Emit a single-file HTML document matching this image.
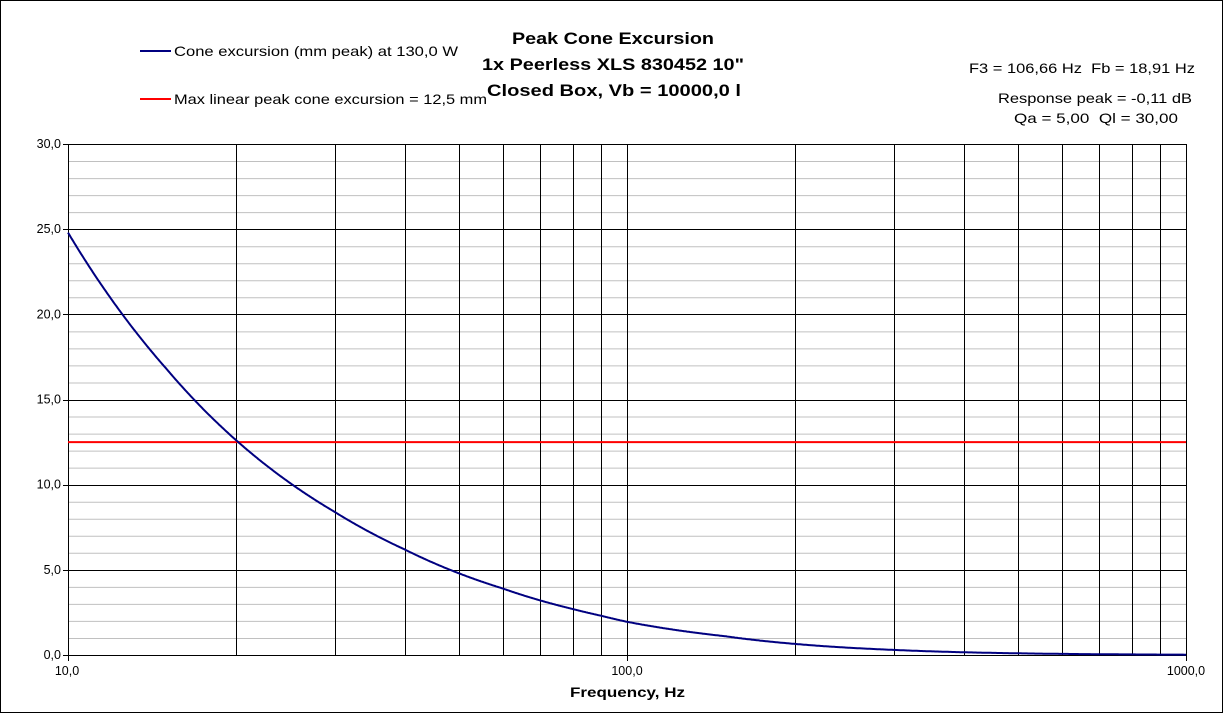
<!DOCTYPE html>
<html><head><style>
body{margin:0;background:#fff}
svg{display:block;font-family:"Liberation Sans",Arial,sans-serif}
</style></head><body>
<svg id="s" width="1224" height="714" xmlns="http://www.w3.org/2000/svg">
<rect x="0.5" y="0.5" width="1222" height="712" fill="#fff" stroke="#000"/>
<g id="g"></g>
<text x="512" y="44" font-size="17" font-weight="bold" textLength="202" lengthAdjust="spacingAndGlyphs">Peak Cone Excursion</text>
<text x="482" y="70" font-size="17" font-weight="bold" textLength="262" lengthAdjust="spacingAndGlyphs">1x Peerless XLS 830452 10"</text>
<text x="487" y="96" font-size="17" font-weight="bold" textLength="254" lengthAdjust="spacingAndGlyphs">Closed Box, Vb = 10000,0 l</text>
<line x1="140" y1="51" x2="171" y2="51" stroke="#000080" stroke-width="2"/>
<text x="174" y="56" font-size="14" textLength="284" lengthAdjust="spacingAndGlyphs">Cone excursion (mm peak) at 130,0 W</text>
<line x1="140" y1="99" x2="171" y2="99" stroke="#f00" stroke-width="2"/>
<text x="174" y="104" font-size="14" textLength="313" lengthAdjust="spacingAndGlyphs">Max linear peak cone excursion = 12,5 mm</text>
<text x="969" y="73" font-size="14" textLength="226" lengthAdjust="spacingAndGlyphs">F3 = 106,66 Hz&#160; Fb = 18,91 Hz</text>
<text x="998" y="103" font-size="14" textLength="194" lengthAdjust="spacingAndGlyphs">Response peak = -0,11 dB</text>
<text x="1014" y="123" font-size="14" textLength="164" lengthAdjust="spacingAndGlyphs">Qa = 5,00&#160; Ql = 30,00</text>
<text x="570" y="697" font-size="14" font-weight="bold" textLength="115" lengthAdjust="spacingAndGlyphs">Frequency, Hz</text>
</svg>
<script>
var g=document.getElementById('g'),h='';
var L=68,R=1186,T=144,B=655;
function X(f){return L+(R-L)*Math.log10(f/10)/2}
function Y(v){return B-(B-T)*v/30}
for(var i=1;i<30;i++){if(i%5)h+='<line x1="'+L+'" x2="'+R+'" y1="'+(Y(i)+.5)+'" y2="'+(Y(i)+.5)+'" stroke="#c0c0c0"/>';}
for(var i=5;i<=30;i+=5){var y=Math.round(Y(i))+.5;h+='<line x1="'+(L-5)+'" x2="'+R+'" y1="'+y+'" y2="'+y+'" stroke="#000"/>';}
[20,30,40,50,60,70,80,90,100,200,300,400,500,600,700,800,900].forEach(function(f){var x=Math.round(X(f))+.5;h+='<line x1="'+x+'" x2="'+x+'" y1="'+T+'" y2="'+B+'" stroke="#000"/>';});
h+='<rect x="'+(L+.5)+'" y="'+(T+.5)+'" width="'+(R-L)+'" height="'+(B-T)+'" fill="none" stroke="#000"/>';
h+='<line x1="'+(L-5)+'" x2="'+L+'" y1="'+(B+.5)+'" y2="'+(B+.5)+'" stroke="#000"/>';
[10,100,1000].forEach(function(f){var x=Math.round(X(f))+.5;h+='<line x1="'+x+'" x2="'+x+'" y1="'+B+'" y2="'+(B+6)+'" stroke="#000"/>';});
for(var i=0;i<=30;i+=5){h+='<text x="'+(L-7)+'" y="'+(Y(i)+4)+'" font-size="12.5" text-anchor="end">'+i+',0</text>';}
h+='<text x="67" y="675" font-size="12.5" text-anchor="middle">10,0</text>';
h+='<text x="627" y="675" font-size="12.5" text-anchor="middle">100,0</text>';
h+='<text x="1186" y="675" font-size="12.5" text-anchor="middle">1000,0</text>';
h+='<line x1="'+L+'" x2="'+R+'" y1="'+Y(12.5)+'" y2="'+Y(12.5)+'" stroke="#f00" stroke-width="2"/>';
var P=[[10,24.8],[15,16.8],[20,12.6],[30,8.4],[40,6.2],[50,4.8],[60,3.9],[70,3.2],[80,2.7],[90,2.3],[100,1.95],[150,1.1],[200,0.65],[300,0.3],[500,0.1],[1000,0.02]];
var pts=[];
for(var px=L;px<=R;px++){var f=10*Math.pow(10,2*(px-L)/(R-L));var k=0;while(k<P.length-2&&f>P[k+1][0])k++;
var a=P[k],b=P[k+1],t=Math.log(f/a[0])/Math.log(b[0]/a[0]);var v=Math.exp(Math.log(a[1])+t*(Math.log(b[1])-Math.log(a[1])));
pts.push(px+','+Y(v).toFixed(1));}
h+='<polyline points="'+pts.join(' ')+'" fill="none" stroke="#000080" stroke-width="2"/>';
g.innerHTML=h;
</script>
</body></html>
